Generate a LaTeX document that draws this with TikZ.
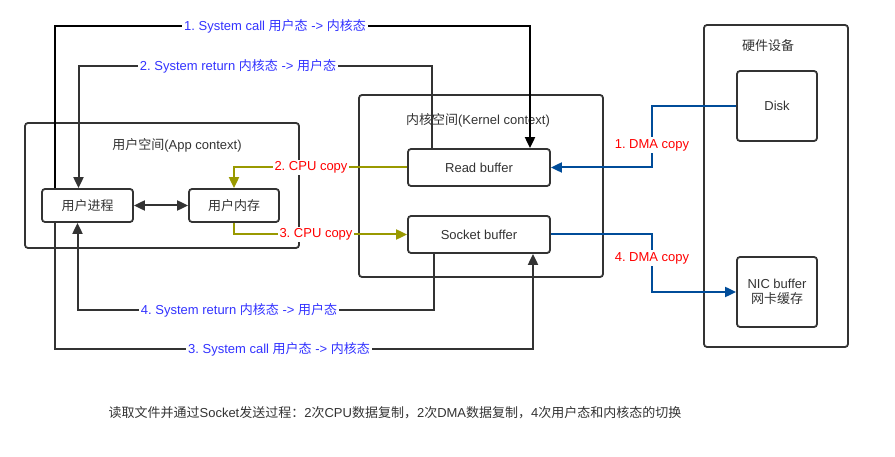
\documentclass[tikz,border=0pt]{standalone}
\usepackage{fontspec}
\setmainfont{Liberation Sans}
\newfontfamily\cjk{Noto Sans CJK SC}
\usetikzlibrary{arrows.meta}
\definecolor{lineg}{HTML}{333333}
\definecolor{callblue}{HTML}{3333FF}
\definecolor{dmablue}{HTML}{004C99}
\definecolor{cpuolive}{HTML}{999900}
\newcommand{\zh}[1]{{\cjk #1}}
\frenchspacing
\begin{document}
\begin{tikzpicture}[
    x=1pt,y=-1pt,
    font=\fontsize{13}{15.5}\selectfont,
    tip/.style={-{Triangle[length=11pt,width=10pt]}},
    area/.style={draw=lineg,line width=1.8pt,rounded corners=3pt},
    box/.style={draw=lineg,line width=1.8pt,rounded corners=3pt,text=lineg,align=center,inner sep=0pt},
    title/.style={text=lineg},
    sys/.style={draw=lineg,line width=2pt,tip},
    cpu/.style={draw=cpuolive,line width=2pt,tip},
    dma/.style={draw=dmablue,line width=2pt,tip},
    tag/.style={fill=white,inner sep=2pt,text=callblue},
    copytag/.style={fill=white,inner sep=2pt,text=red}
]
    \useasboundingbox (0,0) rectangle (895,457);
    % areas
    \node[area,minimum width=274pt,minimum height=125pt] (user) at (162,185.5) {};
    \node[area,minimum width=244pt,minimum height=182pt] (kernel) at (481,186) {};
    \node[area,minimum width=144pt,minimum height=322pt] (hw) at (776,186) {};
    \node[title] (usert) at (177,145) {\zh{用户空间}(App context)};
    \node[title] (kernelt) at (478,120) {\zh{内核空间}(Kernel context)};
    \node[title] (hwt) at (768,46) {\zh{硬件设备}};
    % boxes
    \node[box,minimum width=91pt,minimum height=33pt] (uproc) at (87.5,205.5) {\zh{用户进程}};
    \node[box,minimum width=90pt,minimum height=33pt] (umem) at (234,205.5) {\zh{用户内存}};
    \node[box,minimum width=142pt,minimum height=37pt] (rbuf) at (479,167.5) {Read buffer};
    \node[box,minimum width=142pt,minimum height=37pt] (sbuf) at (479,234.5) {Socket buffer};
    \node[box,minimum width=80pt,minimum height=70pt] (disk) at (777,106) {Disk};
    \node[box,minimum width=80pt,minimum height=70pt] (nic) at (777,292) {NIC buffer\\\zh{网卡缓存}};
    % system call / return
    \draw[sys,draw=black] ([xshift=-33pt]uproc.north) |- (275,26)
        node[tag] {1. System call \zh{用户态} -> \zh{内核态}} -| ([xshift=51pt]rbuf.north);
    \draw[sys] ([xshift=-47pt]rbuf.north) |- (238,66)
        node[tag] {2. System return \zh{内核态} -> \zh{用户态}} -| ([xshift=-9pt]uproc.north);
    \draw[sys] ([xshift=-33pt]uproc.south) |- (279,349)
        node[tag] {3. System call \zh{用户态} -> \zh{内核态}} -| ([xshift=54pt]sbuf.south);
    \draw[sys] ([xshift=-45pt]sbuf.south) |- (239,310)
        node[tag] {4. System return \zh{内核态} -> \zh{用户态}} -| ([xshift=-10pt]uproc.south);
    \draw[sys,{Triangle[length=11pt,width=10pt]}-{Triangle[length=11pt,width=10pt]}] (uproc) -- (umem);
    % copies
    \draw[cpu] (rbuf.west) -- (311,167.5) node[copytag] {2. CPU copy} -| (umem.north);
    \draw[cpu] (umem.south) |- (316,234.5) node[copytag] {3. CPU copy} -- (sbuf.west);
    \draw[dma] (disk.west) -| (652,145) node[copytag] {1. DMA copy} |- (rbuf.east);
    \draw[dma] (sbuf.east) -| (652,258) node[copytag] {4. DMA copy} |- (nic.west);
    % caption
    \node[text=lineg] (note) at (395,413) {\zh{读取文件并通过}Socket\zh{发送过程：}2\zh{次}CPU\zh{数据复制，}2\zh{次}DMA\zh{数据复制，}4\zh{次用户态和内核态的切换}};
\end{tikzpicture}
\end{document}
